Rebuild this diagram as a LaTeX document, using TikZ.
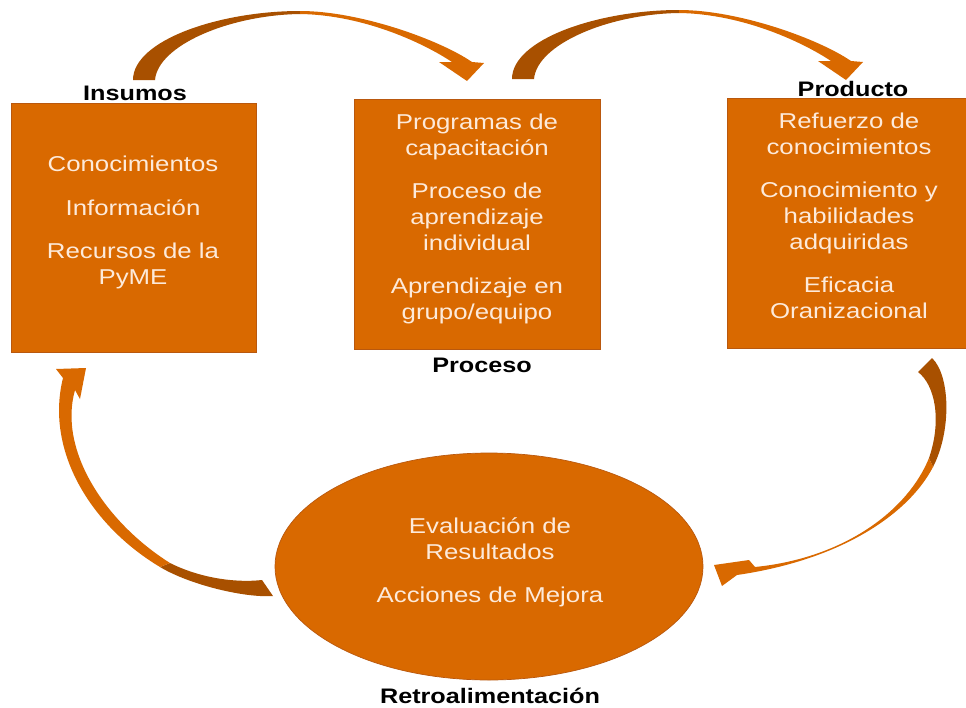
\documentclass[tikz,border=0pt]{standalone}
\usepackage{fontspec}
\setmainfont{Liberation Sans}[FakeStretch=1.2]
\usetikzlibrary{shapes.geometric}
\definecolor{boxfill}{RGB}{217,105,0}
\definecolor{boxline}{RGB}{185,88,14}
\definecolor{darkarrow}{RGB}{168,80,0}
\definecolor{lighttext}{RGB}{253,234,218}
\tikzset{
  box/.style={rectangle, fill=boxfill, draw=boxline, line width=0.7pt, inner sep=0pt},
  oval/.style={ellipse, fill=boxfill, draw=boxline, line width=0.7pt, inner sep=0pt},
  bodytext/.style={align=center, inner sep=0pt, text=lighttext, font=\fontsize{21.5pt}{26pt}\selectfont, anchor=base},
  headlabel/.style={inner sep=0pt, text=black, font=\bfseries\fontsize{21pt}{25pt}\selectfont, anchor=base},
  arrowlight/.style={fill=boxfill},
  arrowdark/.style={fill=darkarrow}
}
\begin{document}
\begin{tikzpicture}[x=1pt,y=-1pt]
\useasboundingbox (0,0) rectangle (966,707);
\fill[white] (0,0) rectangle (966,707);

% boxes
\node[box, minimum width=245pt, minimum height=249pt] (insumos) at (133.5,227.5) {};
\node[box, minimum width=246pt, minimum height=250pt] (proceso) at (477,224) {};
\node[box, minimum width=239pt, minimum height=250pt] (producto) at (846.5,223) {};
\node[oval, minimum width=428pt, minimum height=227pt] (retro) at (489,566.5) {};

% texts inside (base anchor = baseline of the last line)
\node[bodytext] (tins) at (133,284) {Conocimientos\\[18pt]Información\\[17pt]Recursos de la\\PyME};
\node[bodytext] (tpro) at (477,319) {Programas de\\capacitación\\[17pt]Proceso de\\aprendizaje\\individual\\[17pt]Aprendizaje en\\grupo/equipo};
\node[bodytext] (tprod) at (849,318) {Refuerzo de\\conocimientos\\[17pt]Conocimiento y\\habilidades\\adquiridas\\[17pt]Eficacia\\Oranizacional};
\node[bodytext] (tret) at (490,602) {Evaluación de\\Resultados\\[17pt]Acciones de Mejora};

% labels
\node[headlabel] (lins) at (135,100) {Insumos};
\node[headlabel] (lpro) at (482,372) {Proceso};
\node[headlabel] (lprod) at (853,96) {Producto};
\node[headlabel] (lret) at (490,703) {Retroalimentación};

% arrow 1: Insumos -> Proceso (and arrow 2 shifted)
\foreach \dx/\dy in {0/0, 379/-1}{
\begin{scope}[shift={(\dx,\dy)}]
\fill[arrowdark] (133,80) .. controls (133,40) and (220,11) .. (300,11)
   -- (300,14) .. controls (230,15) and (158,45) .. (155,80) -- cycle;
\fill[arrowlight] (300,11) .. controls (360,11) and (440,40) .. (472,62)
   -- (484,63) -- (467,81) -- (439,62) -- (452,62)
   .. controls (425,44) and (365,15) .. (300,14) -- cycle;
\end{scope}
}

% arrow 3: Producto -> Retroalimentacion
\fill[arrowdark] (932,358) .. controls (950,375) and (952,430) .. (933,467)
   -- (929,458) .. controls (942,420) and (935,385) .. (918,372) -- cycle;
\fill[arrowlight] (933,467) .. controls (908,515) and (840,560) .. (737,575)
   -- (722,586) -- (714,565) -- (749,560) -- (755,567)
   .. controls (845,558) and (908,510) .. (929,458) -- cycle;

% arrow 4: Retroalimentacion -> Insumos
\fill[arrowdark] (273,596) .. controls (245,598) and (190,585) .. (160,567)
   -- (170,563) .. controls (200,578) and (235,583) .. (262,580) -- cycle;
\fill[arrowlight] (160,567) .. controls (90,525) and (45,450) .. (63,378)
   -- (56,369) -- (86,368) -- (80,399) -- (75,390)
   .. controls (58,450) and (105,522) .. (170,563) -- cycle;
\end{tikzpicture}
\end{document}
